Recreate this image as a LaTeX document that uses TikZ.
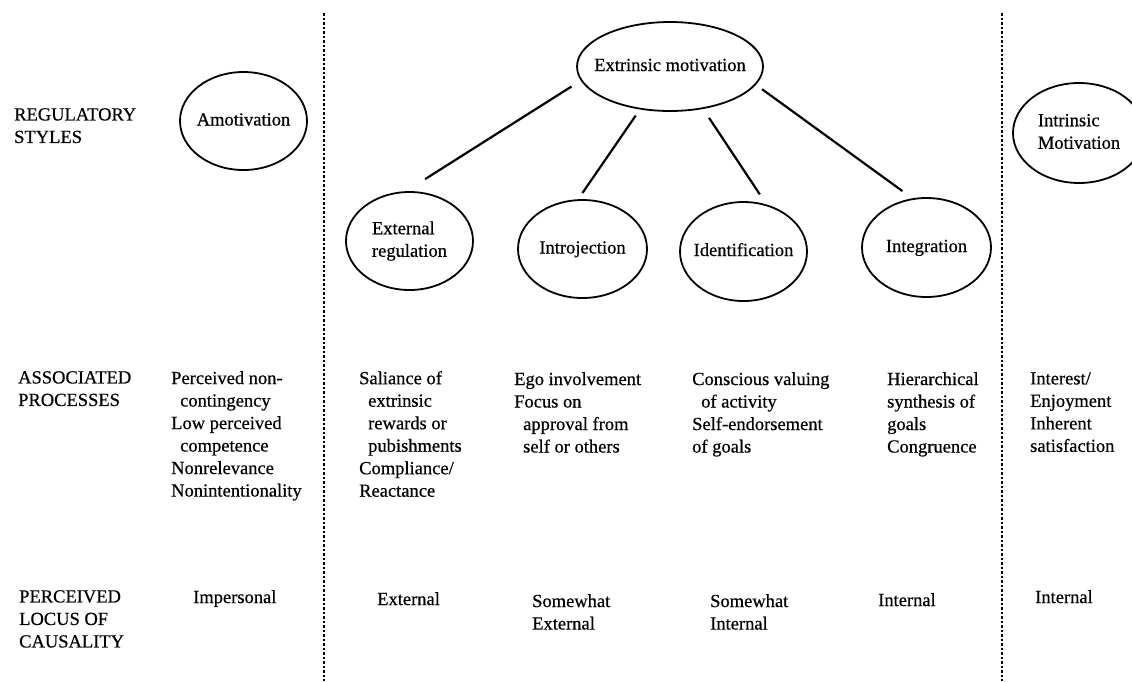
\documentclass[tikz,border=0pt]{standalone}
\usepackage{fontspec}
\setmainfont{Liberation Serif}[BoldFont=Liberation Serif, BoldFeatures={FakeBold=0.5}]
\usetikzlibrary{shapes.geometric}
\newcommand{\ovaltxt}[1]{\makebox[0pt]{\begin{tabular}{@{}l@{}}#1\end{tabular}}}
\begin{document}
\begin{tikzpicture}[x=1pt,y=-1pt,
  every node/.style={font=\fontsize{18.5}{22.5}\selectfont\bfseries},
  oval/.style={draw, ellipse, line width=1.8pt, inner sep=0pt},
  txt/.style={anchor=north west, align=left, inner sep=0pt},
  link/.style={line width=2.2pt},
  divider/.style={line width=1.8pt, dash pattern=on 2.5pt off 2pt}]
\useasboundingbox (0,0) rectangle (1132,681);
\fill[white] (0,0) rectangle (1132,681);

% dividers
\draw[divider] (324,13) -- (324,681);
\draw[divider] (1002,13) -- (1002,681);

% ellipses
\node[oval, minimum width=127pt, minimum height=98pt] (amot) at (243.5,121) {\ovaltxt{Amotivation}};
\node[oval, minimum width=186pt, minimum height=89pt] (ext) at (670,66.5) {\ovaltxt{Extrinsic motivation}};
\node[oval, minimum width=127pt, minimum height=98pt] (er) at (409.5,241) {\ovaltxt{External\\regulation}};
\node[oval, minimum width=129pt, minimum height=98pt] (intro) at (582.5,249) {\ovaltxt{Introjection}};
\node[oval, minimum width=127pt, minimum height=99pt] (ident) at (743.5,251.5) {\ovaltxt{Identification}};
\node[oval, minimum width=129pt, minimum height=99pt] (integ) at (926.5,247.5) {\ovaltxt{Integration}};
\node[oval, minimum width=132pt, minimum height=100pt] (intr) at (1079,133) {\ovaltxt{Intrinsic\\Motivation}};

% connectors
\draw[link, shorten <=11pt, shorten >=22.7pt] (ext.189.5) -- (er.94.3);
\draw[link, shorten <=7.5pt, shorten >=7.5pt] (ext.235.9) -- (intro.95.6);
\draw[link, shorten <=10.6pt, shorten >=12pt] (ext.308.7) -- (ident.64.6);
\draw[link, shorten <=7.5pt, shorten >=12.3pt] (ext.348) -- (integ.106.8);

% row labels
\node[txt] (lreg) at (14,108) {REGULATORY\\STYLES};
\node[txt] (lass) at (18,371) {ASSOCIATED\\PROCESSES};
\node[txt] (lloc) at (19,590) {PERCEIVED\\LOCUS OF\\CAUSALITY};

% associated processes
\node[txt] (pa) at (171,371) {Perceived non-\\\hspace*{9pt}contingency\\Low perceived\\\hspace*{9pt}competence\\Nonrelevance\\Nonintentionality};
\node[txt] (pe) at (359,371) {Saliance of\\\hspace*{9pt}extrinsic\\\hspace*{9pt}rewards or\\\hspace*{9pt}pubishments\\Compliance/\\Reactance};
\node[txt] (pi) at (514,372) {Ego involvement\\Focus on\\\hspace*{9pt}approval from\\\hspace*{9pt}self or others};
\node[txt] (pd) at (692,372) {Conscious valuing\\\hspace*{9pt}of activity\\Self-endorsement\\of goals};
\node[txt] (pg) at (887,372) {Hierarchical\\synthesis of\\goals\\Congruence};
\node[txt] (pm) at (1030,372) {Interest/\\Enjoyment\\Inherent\\satisfaction};

% perceived locus of causality
\node[txt] (la) at (193,590) {Impersonal};
\node[txt] (le) at (377,592) {External};
\node[txt] (li) at (532,594) {Somewhat\\External};
\node[txt] (ld) at (710,594) {Somewhat\\Internal};
\node[txt] (lg) at (878,593) {Internal};
\node[txt] (lm) at (1035,590) {Internal};
\end{tikzpicture}
\end{document}
